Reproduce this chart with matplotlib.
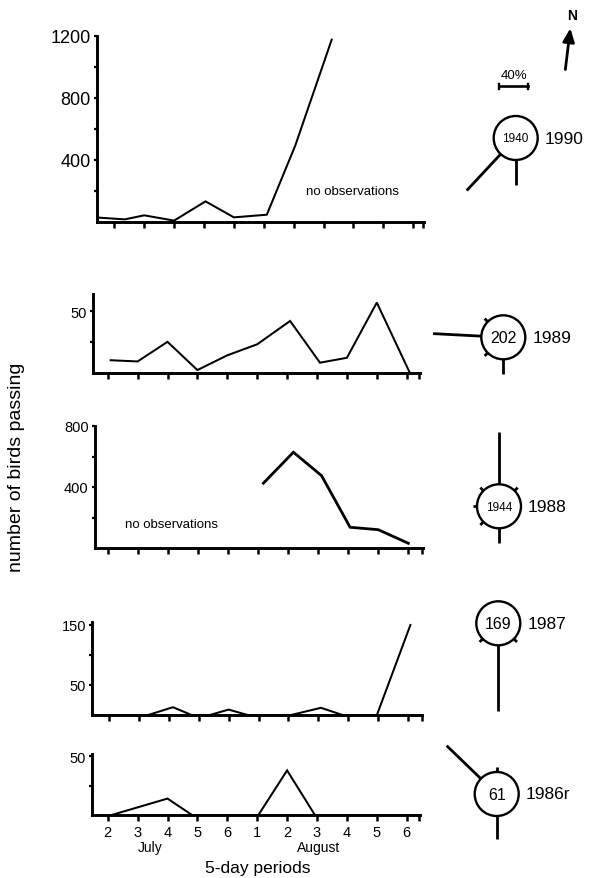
import numpy as np
import matplotlib
matplotlib.use("Agg")
import matplotlib.pyplot as plt
from matplotlib.patches import Circle
from matplotlib.ticker import FixedLocator, NullFormatter

plt.rcParams['font.family'] = ['Liberation Sans', 'DejaVu Sans']

# ---------------- data ----------------
period_labels = ["2", "3", "4", "5", "6", "1", "2", "3", "4", "5", "6"]
months = ["July", "August"]

x_1990 = [-0.5, 0.35, 1, 2, 3.05, 4, 5.1, 6.05, 7.27]
y_1990 = [28, 17, 43, 9, 133, 30, 47, 492, 1176]

x_1989 = [0.1, 1, 2, 3, 4, 5, 6.1, 7.1, 8, 9, 10.1]
y_1989 = [10, 9, 25, 2, 14, 23, 42, 8, 12, 57, 0]

x_1988 = [5.17, 6.17, 7.11, 8.06, 9, 10]
y_1988 = [425, 628, 474, 136, 120, 31]

x_1987 = [-0.56, 1.31, 2.14, 2.76, 3.37, 4.0, 4.64, 6.09, 7.09, 7.81, 8.96, 10.08]
y_1987 = [0, 0, 13, 0, 0, 9, 0, 0, 12, 0, 0, 150]

x_1986 = [0.13, 2.0, 2.82, 5.04, 6.0, 6.93, 10.41]
y_1986 = [0, 14, 0, 0, 38, 0, 0]

years = ["1990", "1989", "1988", "1987", "1986r"]
totals = ["1940", "202", "1944", "169", "61"]
# rose bars: (bearing deg, percent)
rose_1990 = [(223, 68), (180, 34)]
rose_1989 = [(273, 66), (180, 20), (315, 6), (225, 6)]
rose_1988 = [(0, 72), (180, 20), (45, 6), (315, 6), (270, 6), (225, 6)]
rose_1987 = [(180, 90), (225, 6), (135, 6)]
rose_1986 = [(314, 65), (180, 32), (0, 7)]
roses = [rose_1990, rose_1989, rose_1988, rose_1987, rose_1986]
scale_pct = 40

# ---------------- layout ----------------
W, H = 592, 879
fig = plt.figure(figsize=(W / 100, H / 100), dpi=100)

def add_panel(left, right, top, bottom, tick0, sp):
    ax = fig.add_axes([left / W, 1 - bottom / H, (right - left) / W, (bottom - top) / H])
    ax.set_xlim((left - tick0) / sp, (right - tick0) / sp)
    for s in ['top', 'right']:
        ax.spines[s].set_visible(False)
    for s in ['left', 'bottom']:
        ax.spines[s].set_linewidth(2.1)
    ax.set_facecolor('none')
    xr = (right - tick0) / sp
    ax.xaxis.set_major_locator(FixedLocator(range(11)))
    ax.xaxis.set_minor_locator(FixedLocator([xr - 0.02]))
    ax.tick_params(axis='x', which='both', direction='out', length=4, width=1.8, labelbottom=False)
    ax.tick_params(axis='y', which='both', direction='out', length=2.5, width=1.6, pad=2)
    return ax

panels = [
    dict(box=(97, 424, 37, 223, 114.3, 29.9), x=x_1990, y=y_1990, ylim=1200,
         major=[400, 800, 1200], minor=[200, 600, 1000], fs=13, lw=1.45),
    dict(box=(93.3, 420, 295, 373.5, 107.7, 29.9), x=x_1989, y=y_1989, ylim=64,
         major=[50], minor=[25], fs=10.5, lw=1.45),
    dict(box=(95, 423, 427, 549, 108.3, 30.0), x=x_1988, y=y_1988, ylim=800,
         major=[400, 800], minor=[200, 600], fs=10.5, lw=2.0),
    dict(box=(92.3, 422.3, 623, 716, 109, 29.9), x=x_1987, y=y_1987, ylim=155,
         major=[50, 150], minor=[100], fs=10.5, lw=1.45),
    dict(box=(91.7, 420, 755, 816, 107.7, 29.9), x=x_1986, y=y_1986, ylim=52,
         major=[50], minor=[25], fs=10.5, lw=1.45),
]

axes = []
for p in panels:
    ax = add_panel(*p['box'])
    ax.set_ylim(0, p['ylim'])
    ax.plot(p['x'], p['y'], color='black', lw=p['lw'], solid_joinstyle='miter', clip_on=False)
    ax.yaxis.set_major_locator(FixedLocator(p['major']))
    ax.yaxis.set_minor_locator(FixedLocator(p['minor']))
    ax.yaxis.set_minor_formatter(NullFormatter())
    ax.set_yticklabels([str(v) for v in p['major']], fontsize=p['fs'])
    axes.append(ax)

axes[-1].tick_params(axis='x', which='major', labelbottom=True, labelsize=10.5, pad=3)
axes[-1].set_xticklabels(period_labels)

axes[0].text(6.4, 200, "no observations", fontsize=9.5, va='center', ha='left')
axes[2].text(0.55, 160, "no observations", fontsize=9.5, va='center', ha='left')

# ---------------- overlay (pixel coordinates) ----------------
ov = fig.add_axes([0, 0, 1, 1])
ov.set_xlim(0, W)
ov.set_ylim(H, 0)
ov.axis('off')

ov.text(17, 467, "number of birds passing", rotation=90, fontsize=14, ha='center', va='center')
ov.text(150, 848.5, months[0], fontsize=10, ha='center', va='center')
ov.text(318.7, 848.5, months[1], fontsize=10, ha='center', va='center')
ov.text(257.5, 869, "5-day periods", fontsize=12.5, ha='center', va='center')

centers = [(515.7, 139), (503.3, 338.3), (499, 507.3), (498.3, 624.3), (496.7, 795)]
inner_fs = [8.5, 11.5, 8.5, 11.5, 11.5]
r = 22
px_per_pct = 29.3 / scale_pct
for (cx, cy), yr, tot, rose, ifs in zip(centers, years, totals, roses, inner_fs):
    ov.add_patch(Circle((cx, cy), r, fill=False, lw=1.7, ec='black'))
    ov.text(cx, cy + 0.5, tot, fontsize=ifs, ha='center', va='center')
    ov.text(cx + r + 7, cy, yr, fontsize=12.5, ha='left', va='center')
    for bearing, pct in rose:
        t = np.deg2rad(bearing)
        dx, dy = np.sin(t), -np.cos(t)
        r2 = r + pct * px_per_pct
        ov.plot([cx + r * dx, cx + r2 * dx], [cy + r * dy, cy + r2 * dy],
                color='black', lw=2.0, solid_capstyle='butt')

# scale bar
ov.plot([499, 528.3], [87.3, 87.3], color='black', lw=1.9)
ov.plot([499, 499], [84.5, 90], color='black', lw=1.7)
ov.plot([528.3, 528.3], [84.5, 90], color='black', lw=1.7)
ov.text(514, 76, f"{scale_pct}%", fontsize=9.5, ha='center', va='center')

# north arrow
ov.annotate("", xy=(570.7, 26.5), xytext=(565, 73.3),
            arrowprops=dict(arrowstyle='-|>,head_length=0.8,head_width=0.35', lw=2.0, color='black'))
ov.text(571.7, 16, "N", fontsize=10, fontweight='bold', ha='center', va='center')

fig.savefig("out.png", dpi=100)
